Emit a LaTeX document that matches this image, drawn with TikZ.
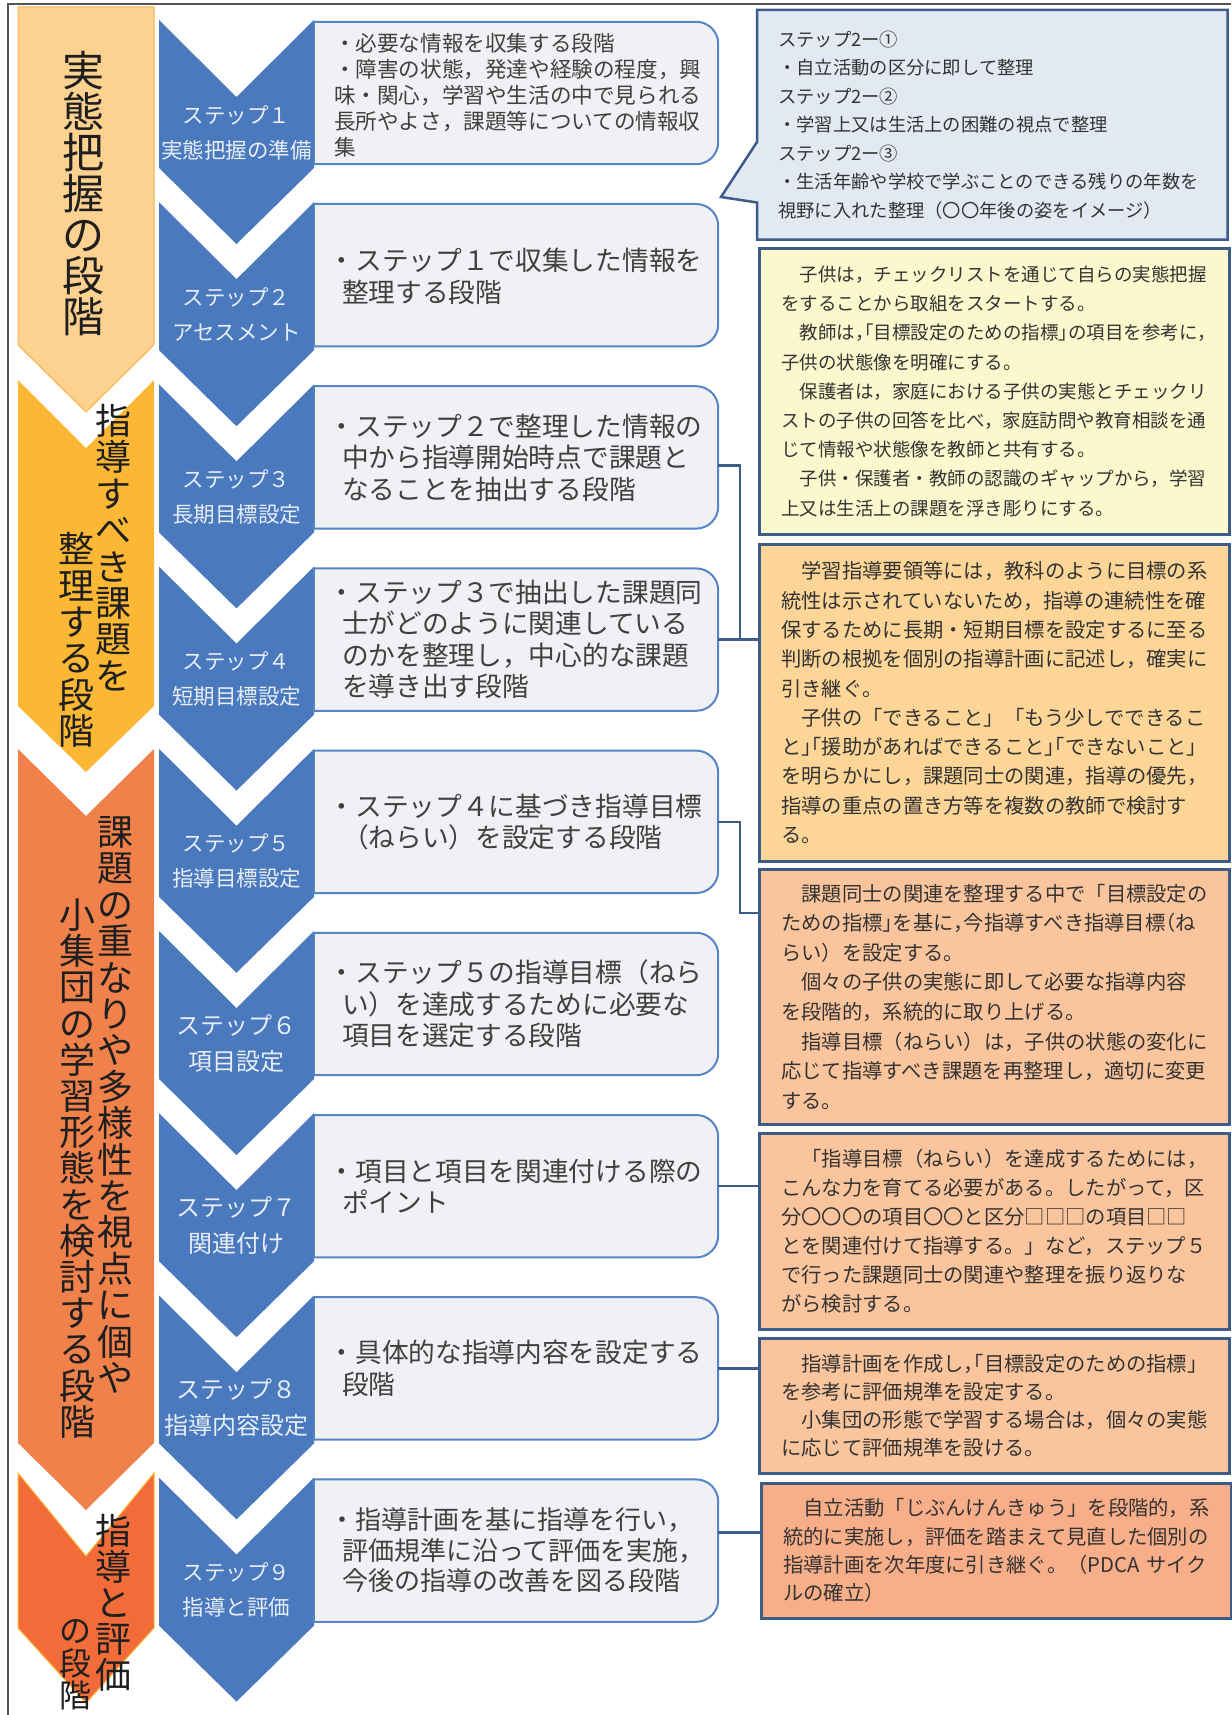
\documentclass[tikz,border=0pt]{standalone}
\usepackage{fontspec}
\setmainfont{Noto Sans CJK JP}
\usetikzlibrary{calc,backgrounds}
\setlength{\parindent}{0pt}
\lineskiplimit=-100pt
\definecolor{stepblue}{HTML}{4A7ABD}
\definecolor{boxgray}{HTML}{F0F1F4}
\definecolor{boxline}{HTML}{5585C5}
\definecolor{noteline}{HTML}{3E5C88}
\definecolor{callfill}{HTML}{E3E9F2}
\definecolor{yelfill}{HTML}{FCF8CE}
\definecolor{orfill}{HTML}{FCD597}
\definecolor{pchfill}{HTML}{FAC59C}
\definecolor{salfill}{HTML}{F7AE89}
\definecolor{ph1}{HTML}{FDD18F}
\definecolor{ph1line}{HTML}{F7B54A}
\definecolor{ph2}{HTML}{FCB735}
\definecolor{ph3}{HTML}{F1814B}
\definecolor{ph4}{HTML}{F26C39}
\definecolor{steptext}{HTML}{E8EEF7}
\definecolor{graytext}{HTML}{404040}
\definecolor{notetext}{HTML}{333333}
\definecolor{framecol}{HTML}{555555}
\newcommand{\hL}[1]{\makebox[0.5em][r]{#1}}
\newcommand{\hR}[1]{\makebox[0.5em][l]{#1}}
\begin{document}
\begin{tikzpicture}[x=1pt,y=-1pt,
  steplabel/.style={text=steptext, align=center, inner sep=0pt, font=\fontsize{21.5}{35}\selectfont},
  steplabelbig/.style={steplabel, font=\fontsize{24}{36}\selectfont},
  grayframe/.style={minimum width=404pt, minimum height=142pt, inner sep=0pt},
  grayoutline/.style={fill=boxgray, draw=boxline, line width=2pt},
  bigtext/.style={text=graytext, align=left, anchor=west, inner sep=0pt, font=\fontsize{26.7}{31.5}\selectfont},
  smalltext/.style={bigtext, font=\fontsize{21.6}{26}\selectfont},
  notebox/.style={anchor=north west, draw=noteline, line width=2.5pt, minimum width=470pt, text width=426pt, inner xsep=22pt, inner ysep=0pt, align=left, text=notetext},
  notelink/.style={draw=noteline, line width=2.5pt},
  phasetext/.style={align=center, inner sep=0pt, text=black!88}
]
\useasboundingbox (0,0) rectangle (1231,1715);
\begin{pgfonlayer}{background}
\fill[white] (0,0) rectangle (1231,1715);
\end{pgfonlayer}
\draw[framecol, line width=1.5pt] (1231,4) -- (8,4) -- (8,1715);

% phase chevrons
\draw[fill=ph1, draw=ph1line, line width=1pt] (18,7) -- (154,7) -- (154,345) -- (86,412) -- (18,345) -- cycle;
\fill[ph2] (18,380) -- (86,448) -- (154,380) -- (154,706) -- (86,772) -- (18,706) -- cycle;
\fill[ph3] (18,749) -- (86,816) -- (154,749) -- (154,1443) -- (86,1510) -- (18,1443) -- cycle;
\draw[fill=ph4, draw=ph2, line width=1pt] (18,1473) -- (86,1556) -- (154,1473) -- (154,1628) -- (86,1703) -- (18,1628) -- cycle;

% phase texts
\node[phasetext, font=\fontsize{42}{41}\selectfont] (p1) at (83,193.5) {実\\態\\把\\握\\の\\段\\階};
\node[phasetext, font=\fontsize{36}{36.4}\selectfont] (p2a) at (113,547.5) {指\\導\\す\\べ\\き\\課\\題\\を};
\node[phasetext, font=\fontsize{36}{36.4}\selectfont] (p2b) at (76,640) {整\\理\\す\\る\\段\\階};
\node[phasetext, font=\fontsize{36}{36.4}\selectfont] (p3a) at (115,1105) {課\\題\\の\\重\\な\\り\\や\\多\\様\\性\\を\\視\\点\\に\\個\\や};
\node[phasetext, font=\fontsize{36}{36.2}\selectfont] (p3b) at (77,1168.5) {小\\集\\団\\の\\学\\習\\形\\態\\を\\検\\討\\す\\る\\段\\階};
\node[phasetext, font=\fontsize{36}{36}\selectfont] (p4a) at (113,1603) {指\\導\\と\\評\\価};
\node[phasetext, font=\fontsize{32}{32.3}\selectfont] (p4b) at (75,1665) {の\\段\\階};

% step chevrons and gray boxes
\foreach \i in {1,...,9} {
  \pgfmathsetmacro{\yt}{20+(\i-1)*182.2}
  \fill[stepblue] (159,\yt) -- (236.5,\yt+77) -- (314,\yt) -- (314,\yt+148) -- (236.5,\yt+224) -- (159,\yt+148) -- cycle;
  \node[grayframe] (b\i) at (516,\yt+73) {};
  \draw[grayoutline] (b\i.north west) -- (b\i.north) [rounded corners=22pt] -- (b\i.north east) -- (b\i.south east) -- (b\i.south) [sharp corners] -- (b\i.south west) -- cycle;
}

% step labels
\node[steplabel] (s1) at (236.5,132.5) {ステップ１\\実態把握の準備};
\node[steplabel] (s2) at (236.5,314.7) {ステップ２\\アセスメント};
\node[steplabel] (s3) at (236.5,496.9) {ステップ３\\長期目標設定};
\node[steplabel] (s4) at (236.5,679.1) {ステップ４\\短期目標設定};
\node[steplabel] (s5) at (236.5,861.3) {ステップ５\\指導目標設定};
\node[steplabelbig] (s6) at (236.5,1043.5) {ステップ６\\項目設定};
\node[steplabelbig] (s7) at (236.5,1225.7) {ステップ７\\関連付け};
\node[steplabelbig] (s8) at (236.5,1407.9) {ステップ８\\指導内容設定};
\node[steplabel] (s9) at (236.5,1590.1) {ステップ９\\指導と評価};

% gray box texts
\node[smalltext] (t1) at ($(b1.west)+(20,2)$) {・必要な情報を収集する段階\\・障害の状態，発達や経験の程度，興\\味・関心，学習や生活の中で見られる\\長所やよさ，課題等についての情報収\\集};
\node[bigtext] (t2) at ($(b2.west)+(28,1)$) {\hspace*{-0.5em}・ステップ１で収集した情報を\\整理する段階};
\node[bigtext] (t3) at ($(b3.west)+(28,0)$) {\hspace*{-0.5em}・ステップ２で整理した情報の\\中から指導開始時点で課題と\\なることを抽出する段階};
\node[bigtext] (t4) at ($(b4.west)+(28,0)$) {\hspace*{-0.5em}・ステップ３で抽出した課題同\\士がどのように関連している\\のかを整理し，中心的な課題\\を導き出す段階};
\node[bigtext] (t5) at ($(b5.west)+(28,0)$) {\hspace*{-0.5em}・ステップ４に基づき指導目標\\（ねらい）を設定する段階};
\node[bigtext] (t6) at ($(b6.west)+(28,0)$) {\hspace*{-0.5em}・ステップ５の指導目標（ねら\\い）を達成するために必要な\\項目を選定する段階};
\node[bigtext] (t7) at ($(b7.west)+(28,0)$) {\hspace*{-0.5em}・項目と項目を関連付ける際の\\ポイント};
\node[bigtext] (t8) at ($(b8.west)+(28,0)$) {\hspace*{-0.5em}・具体的な指導内容を設定する\\段階};
\node[bigtext, font=\fontsize{26}{30.5}\selectfont] (t9) at ($(b9.west)+(28,0)$) {\hspace*{-0.5em}・指導計画を基に指導を行い，\\評価規準に沿って評価を実施，\\今後の指導の改善を図る段階};

% callout
\coordinate (calltip) at (721,197);
\node[notebox, draw=none, text width=428pt, minimum width=468pt, inner xsep=20pt, minimum height=227pt, font=\fontsize{18.3}{28.5}\selectfont] (call) at (757,10) {ステップ2ー①\\・自立活動の区分に即して整理\\ステップ2ー②\\・学習上又は生活上の困難の視点で整理\\ステップ2ー③\\・生活年齢や学校で学ぶことのできる残りの年数を\\視野に入れた整理（〇〇年後の姿をイメージ）};
\begin{pgfonlayer}{background}
\draw[fill=callfill, draw=noteline, line width=2.5pt, line join=miter] (call.north west) -- (call.north east) -- (call.south east) -- (call.south west) -- ($(call.south west)+(0,-37)$) -- (calltip) -- ($(call.north west)+(0,132)$) -- cycle;
\end{pgfonlayer}

% note boxes
\node[notebox, fill=yelfill, minimum height=286pt, font=\fontsize{18.5}{29.2}\selectfont] (yel) at (758,247) {%
　子供は，チェックリストを通じて自らの実態把握\\
をすることから取組をスタートする。\\
　教師は\hR{，}\hL{「}目標設定のための指標\hR{」}の項目を参考に\hR{，}\\
子供の状態像を明確にする。\\
　保護者は，家庭における子供の実態とチェックリ\\
ストの子供の回答を比べ，家庭訪問や教育相談を通\\
じて情報や状態像を教師と共有する。\\
　子供・保護者・教師の認識のギャップから，学習\\
上又は生活上の課題を浮き彫りにする。};

\node[notebox, fill=orfill, minimum height=317pt, font=\fontsize{20.3}{29.3}\selectfont] (or1) at (758,543) {%
　学習指導要領等には，教科のように目標の系\\
統性は示されていないため，指導の連続性を確\\
保するために長期・短期目標を設定するに至る\\
判断の根拠を個別の指導計画に記述し，確実に\\
引き継ぐ。\\
　子供の「できること」「もう少しでできるこ\\
と\hR{」}\hL{「}援助があればできること\hR{」}\hL{「}できないこと」\\
を明らかにし，課題同士の関連，指導の優先，\\
指導の重点の置き方等を複数の教師で検討す\\
る。};

\node[notebox, fill=pchfill, minimum height=255pt, font=\fontsize{20.3}{29.6}\selectfont] (pc2) at (758,868) {%
　課題同士の関連を整理する中で「目標設定の\\
ための指標\hR{」}を基に\hR{，}今指導すべき指導目標\hL{（}ね\\
らい）を設定する。\\
　個々の子供の実態に即して必要な指導内容\\
を段階的，系統的に取り上げる。\\
　指導目標（ねらい）は，子供の状態の変化に\\
応じて指導すべき課題を再整理し，適切に変更\\
する。};

\node[notebox, fill=pchfill, minimum height=196pt, font=\fontsize{20.3}{29}\selectfont] (pc3) at (758,1132) {%
　「指導目標（ねらい）を達成するためには，\\
こんな力を育てる必要がある。したがって，区\\
分〇〇〇の項目〇〇と区分□□□の項目□□\\
とを関連付けて指導する。」など，ステップ５\\
で行った課題同士の関連や整理を振り返りな\\
がら検討する。};

\node[notebox, fill=pchfill, minimum height=135pt, font=\fontsize{20.3}{28.3}\selectfont] (pc4) at (758,1337) {%
　指導計画を作成し\hR{，}\hL{「}目標設定のための指標」\\
を参考に評価規準を設定する。\\
　小集団の形態で学習する場合は，個々の実態\\
に応じて評価規準を設ける。};

\node[notebox, fill=salfill, minimum height=135pt, font=\fontsize{20.3}{28.3}\selectfont] (sal) at (760,1482) {%
　自立活動「じぶんけんきゅう」を段階的，系\\
統的に実施し，評価を踏まえて見直した個別の\\
指導計画を次年度に引き継ぐ。（PDCA~サイク\\
ルの確立）};

% connectors
\draw[notelink] ($(b2.east)+(0,5)$) -- ($(b2.east)+(0,5)$ -| yel.west);
\coordinate (k3) at ($(b3.east)+(0,8)$);
\draw[notelink] (k3) -| ($(b4.east)+(22,0)$);
\draw[notelink] (b4.east) -- (b4.east -| or1.west);
\coordinate (m56) at ($(b5.east)!0.5!(b6.east)+(22,0)$);
\draw[notelink] (b5.east) -| (m56) -- (m56 -| pc2.west);
\draw[notelink] (b7.east) -- (b7.east -| pc3.west);
\draw[notelink] (b8.east) -- (b8.east -| pc4.west);
\coordinate (k9) at ($(b9.east)+(0,-18)$);
\draw[notelink] (k9) -- (k9 -| sal.west);
\end{tikzpicture}
\end{document}
